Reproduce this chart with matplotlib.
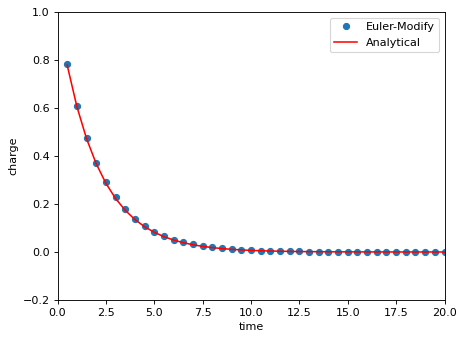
import matplotlib
matplotlib.use("Agg")
import matplotlib.pyplot as plt

# time grid
time = [0.5, 1.0, 1.5, 2.0, 2.5, 3.0, 3.5, 4.0, 4.5, 5.0,
        5.5, 6.0, 6.5, 7.0, 7.5, 8.0, 8.5, 9.0, 9.5, 10.0,
        10.5, 11.0, 11.5, 12.0, 12.5, 13.0, 13.5, 14.0, 14.5, 15.0,
        15.5, 16.0, 16.5, 17.0, 17.5, 18.0, 18.5, 19.0, 19.5, 20.0]

# charge from the modified Euler scheme
euler_modify = [0.78125, 0.61035, 0.47684, 0.37253, 0.29104, 0.22737, 0.17764, 0.13878,
                0.10842, 0.08470, 0.06618, 0.05170, 0.04039, 0.03155, 0.02465, 0.01926,
                0.01505, 0.01175, 0.00918, 0.00717, 0.00560, 0.00438, 0.00342, 0.00267,
                0.00209, 0.00163, 0.00127, 0.00100, 0.00078, 0.00061, 0.00047, 0.00037,
                0.00029, 0.00023, 0.00018, 0.00014, 0.00011, 0.00008, 0.00007, 0.00005]

# exact solution
analytical = [0.7788, 0.6065, 0.4724, 0.3679, 0.2865, 0.2231, 0.1738, 0.1353,
              0.1054, 0.0821, 0.0639, 0.0498, 0.0388, 0.0302, 0.0235, 0.0183,
              0.0143, 0.0111, 0.0087, 0.0067, 0.0052, 0.0041, 0.0032, 0.0025,
              0.0019, 0.0015, 0.0012, 0.0009, 0.0007, 0.0006, 0.0004, 0.0003,
              0.0003, 0.0002, 0.0002, 0.0001, 0.0001, 0.0001, 0.0001, 0.0000]

DPI = 80
fig = plt.figure(figsize=(464 / DPI, 342 / DPI), dpi=DPI)
ax = fig.add_axes([57.5 / 464, 1 - 300 / 342, (444.5 - 57.5) / 464, (300 - 12) / 342])

ax.plot(time, euler_modify, 'o', color='#1f77b4', markersize=5.5, label='Euler-Modify')
ax.plot(time, analytical, '-', color='red', linewidth=1.4, label='Analytical')

ax.set_xlim(0, 20)
ax.set_ylim(-0.2, 1.0)
ax.set_xlabel('time')
ax.set_ylabel('charge')
ax.legend(loc='upper right')

fig.savefig('out.png', dpi=DPI)
